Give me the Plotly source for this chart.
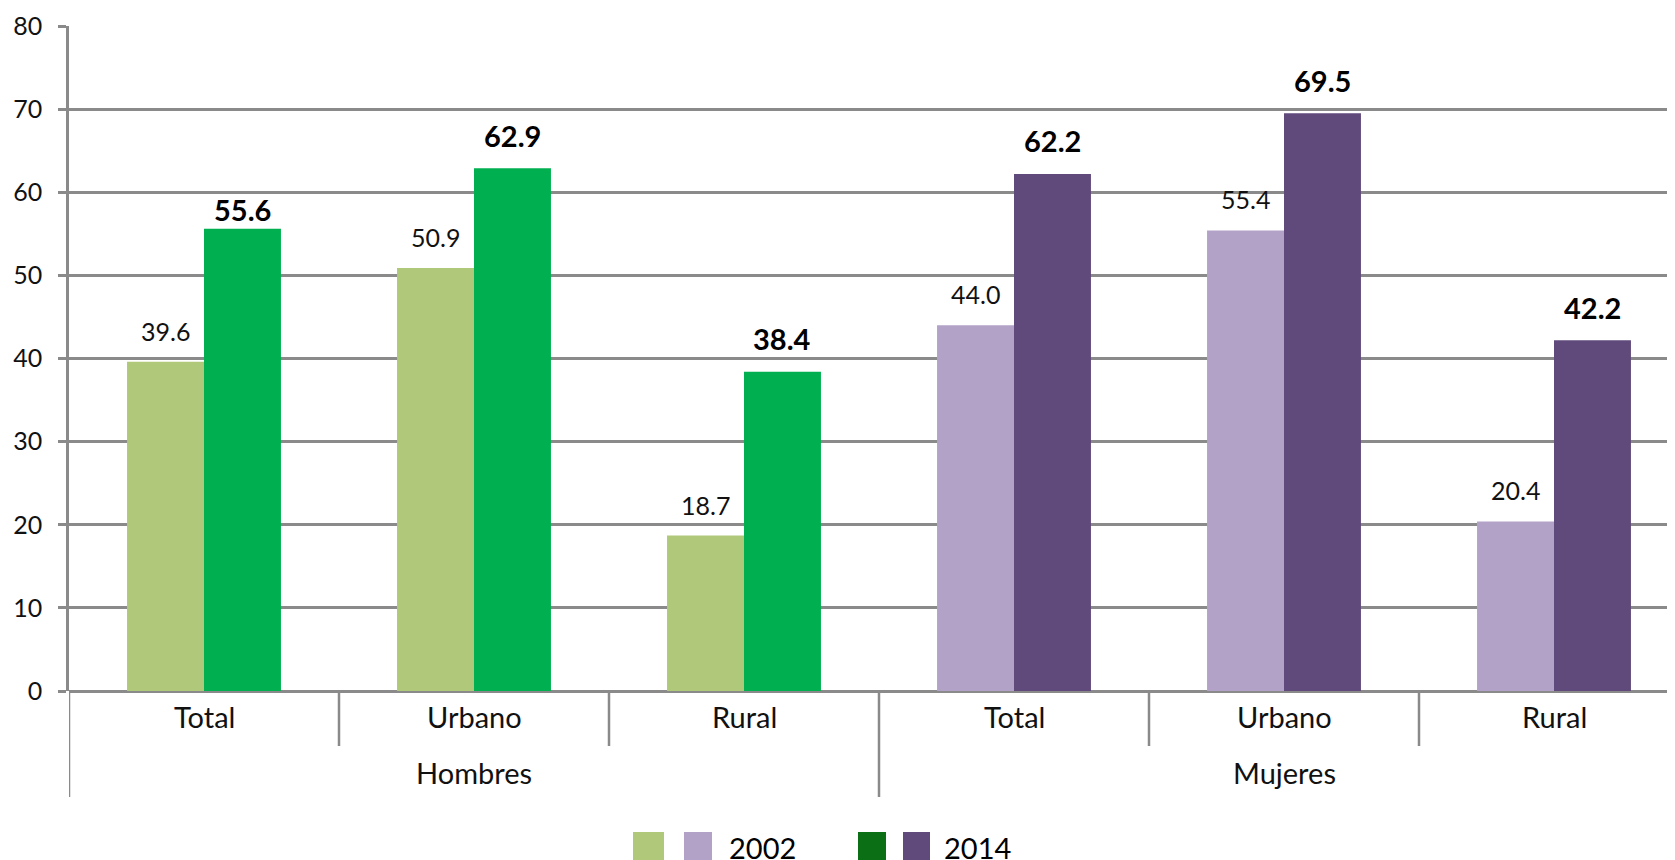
import plotly.graph_objects as go

# data
categorias = ["Total", "Urbano", "Rural", "Total", "Urbano", "Rural"]
grupos = ["Hombres", "Mujeres"]
valores_2002 = [39.6, 50.9, 18.7, 44.0, 55.4, 20.4]
valores_2014 = [55.6, 62.9, 38.4, 62.2, 69.5, 42.2]
y_ticks = [0, 10, 20, 30, 40, 50, 60, 70, 80]

col_2002 = ["#AFC87A"] * 3 + ["#B3A2C7"] * 3
col_2014 = ["#00B050"] * 3 + ["#604A7B"] * 3
GRIS = "#8A8A8A"
FUENTE = "Lato"

# label offsets above the bars (px); the first 2014 label sits lower in the original
desp_2002 = [31] * 6
desp_2014 = [19, 33, 33, 33, 33, 33]

# pixel frame of the plot area (screen pixels); the page body adds an 8px margin
W, H = 1675, 860
OFF = 8
L, T, B = 69, 26, 691
ancho_cat = 270.0
plot_w = W - (L - OFF)
plot_h = B - T

def py(p):
    # screen pixel y -> paper y
    return (B - p) / plot_h

def px(p):
    return (p - L) / plot_w

x = list(range(len(categorias)))
bargap = 0.43
medio = (1 - bargap) / 4

fig = go.Figure()
fig.add_trace(go.Bar(x=x, y=valores_2002, name="2002", marker_color=col_2002,
                     marker_line_width=0))
fig.add_trace(go.Bar(x=x, y=valores_2014, name="2014", marker_color=col_2014,
                     marker_line_width=0))

anots = []
for i, v in enumerate(valores_2002):
    anots.append(dict(x=i - medio, y=v, xref="x", yref="y", text="%.1f" % v,
                      showarrow=False, yanchor="middle", yshift=desp_2002[i],
                      font=dict(family=FUENTE, size=25, color="#111111")))
for i, v in enumerate(valores_2014):
    anots.append(dict(x=i + medio, y=v, xref="x", yref="y", text="<b>%.1f</b>" % v,
                      showarrow=False, yanchor="middle", yshift=desp_2014[i],
                      font=dict(family=FUENTE, size=29, color="#000000")))

# category and group labels
for i, c in enumerate(categorias):
    anots.append(dict(x=i, y=py(716), xref="x", yref="paper", text=c,
                      showarrow=False, yanchor="middle",
                      font=dict(family=FUENTE, size=29, color="#111111")))
for j, g in enumerate(grupos):
    anots.append(dict(x=1 + 3 * j, y=py(772), xref="x", yref="paper", text=g,
                      showarrow=False, yanchor="middle",
                      font=dict(family=FUENTE, size=29, color="#111111")))

shapes = []
for xd in [0.5, 1.5, 3.5, 4.5]:
    shapes.append(dict(type="line", xref="x", yref="paper", x0=xd, x1=xd,
                       y0=0, y1=py(746), line=dict(color=GRIS, width=2.5)))
for xd in [-0.5, 2.5]:
    shapes.append(dict(type="line", xref="x", yref="paper", x0=xd, x1=xd,
                       y0=0, y1=py(797), line=dict(color=GRIS, width=2.5)))

# legend drawn by hand: two swatches per year
leyenda = [("#AFC87A", 633, 664), ("#B3A2C7", 684, 712),
           ("#0B6F15", 858, 886), ("#604A7B", 903, 930)]
for col, a, b in leyenda:
    shapes.append(dict(type="rect", xref="paper", yref="paper",
                       x0=px(a), x1=px(b), y0=py(832), y1=py(866),
                       fillcolor=col, line_width=0))
for txt, a in [("2002", 727), ("2014", 942)]:
    anots.append(dict(x=px(a), y=py(848), xref="paper", yref="paper", text=txt,
                      showarrow=False, xanchor="left", yanchor="middle",
                      font=dict(family=FUENTE, size=29, color="#000000")))

fig.update_layout(
    width=W, height=H,
    margin=dict(l=L - OFF, r=0, t=T - OFF, b=H - (B - OFF), pad=0),
    plot_bgcolor="white", paper_bgcolor="white",
    barmode="group", bargap=bargap, bargroupgap=0,
    showlegend=False,
    annotations=anots, shapes=shapes,
    font=dict(family=FUENTE, color="#111111"),
)
fig.update_xaxes(range=[-0.5, -0.5 + plot_w / ancho_cat], showticklabels=False,
                 showgrid=False, zeroline=False, ticks="", showline=False)
fig.update_yaxes(range=[0, 80], tickvals=y_ticks, showgrid=True, gridcolor=GRIS,
                 gridwidth=2.5, zeroline=True, zerolinecolor=GRIS, zerolinewidth=2.5,
                 ticks="outside", ticklen=8, tickwidth=2.5, tickcolor=GRIS,
                 showline=True, linecolor=GRIS, linewidth=2.5,
                 ticklabelstandoff=11,
                 tickfont=dict(family=FUENTE, size=25, color="#111111"))

fig.write_html("out.html")
